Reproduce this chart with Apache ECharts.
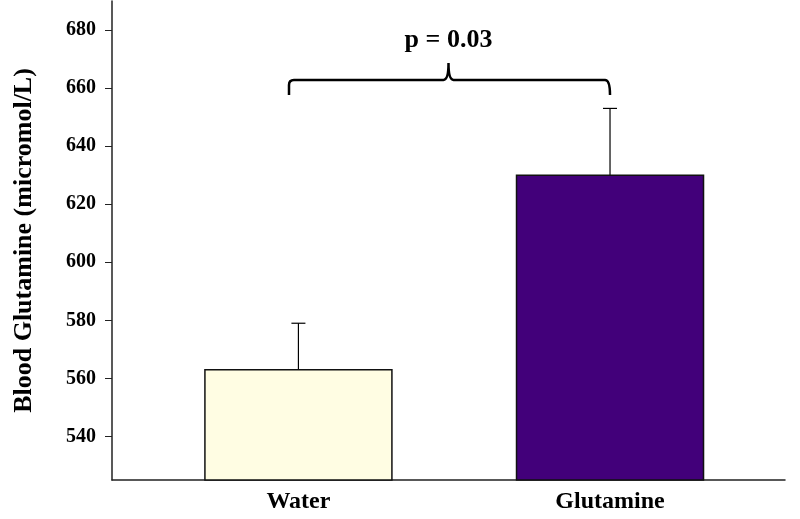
<!DOCTYPE html>
<html><head><meta charset="utf-8">
<script src="https://cdn.jsdelivr.net/npm/echarts@6/dist/echarts.min.js"></script>
<style>html,body{margin:0;padding:0;background:#fff}#c{width:800px;height:519px}</style>
</head><body><div id="c"></div>
<script>
const categories = ['Water', 'Glutamine'];
const positions = [0.277, 0.74];
const means = [563, 630];
const errors = [16, 23];
const colors = ['#FFFDE3', '#42007A'];
const yTicks = [540, 560, 580, 600, 620, 640, 660, 680];
const bracket = {x0: 0.263, x1: 0.74, xm: 0.5, yEnd: 657.6, yBar: 662.8, yPeak: 668.6, label: 'p = 0.03', labelY: 676.5};

const font = 'Liberation Serif';
const chart = echarts.init(document.getElementById('c'));
chart.setOption({
  animation: false,
  grid: {left: 112, right: 15, top: 1, bottom: 39},
  xAxis: {type: 'value', min: 0, max: 1,
    splitLine: {show: false},
    axisLine: {show: true, lineStyle: {color: '#222', width: 1.5}},
    axisTick: {show: false},
    axisLabel: {customValues: positions, formatter: v => categories[positions.indexOf(v)] || '',
      fontFamily: font, fontWeight: 'bold', fontSize: 24, color: '#000', margin: 10}},
  yAxis: {type: 'value', min: 525, max: 690,
    name: 'Blood Glutamine (micromol/L)', nameLocation: 'middle', nameGap: 75,
    nameTextStyle: {fontFamily: font, fontWeight: 'bold', fontSize: 26, color: '#000'},
    splitLine: {show: false},
    axisLine: {show: true, lineStyle: {color: '#222', width: 1.5}},
    axisTick: {show: true, customValues: yTicks, length: 7, lineStyle: {color: '#222'}},
    axisLabel: {customValues: yTicks, fontFamily: font, fontWeight: 'bold', fontSize: 20, color: '#000', margin: 16}},
  series: [{
    type: 'custom',
    data: positions.map((p, i) => [p, means[i], errors[i], i]),
    renderItem: (params, api) => {
      const x = api.value(0), m = api.value(1), e = api.value(2), i = api.value(3);
      const top = api.coord([x, m]), base = api.coord([x, 525]), et = api.coord([x, m + e]);
      const w = 187;
      return {type: 'group', children: [
        {type: 'line', shape: {x1: top[0], y1: top[1], x2: et[0], y2: et[1]}, style: {stroke: '#000', lineWidth: 1.2}},
        {type: 'line', shape: {x1: et[0] - 7, y1: et[1], x2: et[0] + 7, y2: et[1]}, style: {stroke: '#000', lineWidth: 1.2}},
        {type: 'rect', shape: {x: top[0] - w / 2, y: top[1], width: w, height: base[1] - top[1]},
          style: {fill: colors[i], stroke: '#111', lineWidth: 1.5}}
      ]};
    }
  }, {
    type: 'custom',
    data: [[bracket.xm, bracket.yBar]],
    renderItem: (params, api) => {
      const L = api.coord([bracket.x0, bracket.yEnd]), Lb = api.coord([bracket.x0, bracket.yBar]);
      const R = api.coord([bracket.x1, bracket.yEnd]), M = api.coord([bracket.xm, bracket.yPeak]);
      const T = api.coord([bracket.xm, bracket.labelY]);
      const r = 5, y = Lb[1];
      const path = `M${L[0]} ${L[1]} L${L[0]} ${y + r} Q${L[0]} ${y} ${L[0] + r} ${y} L${M[0] - r} ${y} Q${M[0]} ${y} ${M[0]} ${M[1]} Q${M[0]} ${y} ${M[0] + r} ${y} L${R[0] - r} ${y} Q${R[0]} ${y} ${R[0]} ${R[1]}`;
      return {type: 'group', children: [
        {type: 'path', shape: {pathData: path}, style: {fill: null, stroke: '#000', lineWidth: 2.5}},
        {type: 'text', x: T[0], y: T[1], style: {text: bracket.label, fontFamily: font, fontWeight: 'bold', fontSize: 26, fill: '#000', align: 'center', verticalAlign: 'middle'}}
      ]};
    }
  }]
});
</script></body></html>
